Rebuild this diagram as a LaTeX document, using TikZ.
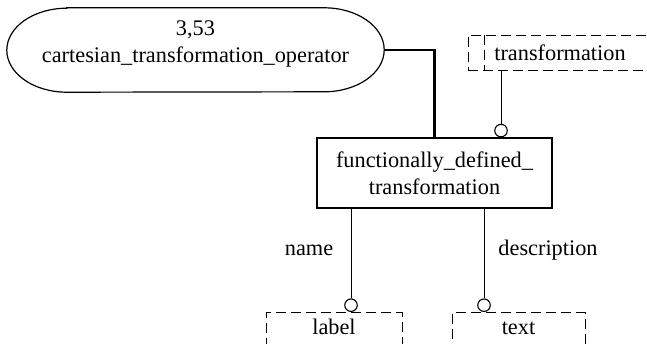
\documentclass[tikz,border=0pt]{standalone}
\usepackage{fontspec}
\setmainfont{Liberation Serif}
\begin{document}
\begin{tikzpicture}[x=1pt,y=-1pt,
  every node/.style={font=\fontsize{22.3}{27}\selectfont, inner sep=0pt},
  solidbox/.style={draw, line width=1.2pt, inner sep=0pt},
  dbox/.style={draw, line width=1pt, dash pattern=on 10pt off 5pt},
  dline/.style={line width=1pt, dash pattern=on 10pt off 5pt},
  conn/.style={line width=1pt},
  thickconn/.style={line width=2.4pt},
  ringnode/.style={circle, draw, line width=1.1pt, minimum size=12.5pt, inner sep=0pt, anchor=south, fill=white},
  outline/.style={line width=1.2pt}]
\useasboundingbox (0,0) rectangle (647,343);
\clip (0,0) rectangle (647,343);

% rounded-end shape
\node[minimum width=377pt, minimum height=84pt] (cto) at (195.5,50) {};
\draw[outline] ([xshift=60pt]cto.north west) -- ([xshift=-60pt]cto.north east)
  arc[start angle=90, end angle=-90, x radius=60pt, y radius=42pt]
  -- ([xshift=60pt]cto.south west)
  arc[start angle=270, end angle=90, x radius=60pt, y radius=42pt] -- cycle;
\node[align=center] (ctotext) at (195.5,44) {3,53\\cartesian\_transformation\_operator};

% transformation (dashed, open to the right)
\node[dbox, minimum width=184pt, minimum height=35pt] (trans) at (560,52.5) {transformation};
\coordinate (xi) at (484,0);
\draw[dline] (trans.north -| xi) -- (trans.south -| xi);

% main entity
\node[solidbox, minimum width=235pt, minimum height=70pt, align=center] (fdt) at (434.5,173)
  {functionally\_defined\_\\transformation};

% lower dashed boxes
\node[dbox, minimum width=136pt, anchor=north, text height=18pt, text depth=22pt, inner ysep=4pt] (lbl) at (334,312) {label};
\node[dbox, minimum width=133pt, anchor=north, text height=18pt, text depth=22pt, inner ysep=4pt] (txt) at (518.5,312) {text};

% ring ends
\coordinate (xa) at (501,0);
\coordinate (xn) at (351,0);
\coordinate (xd) at (484,0);
\node[ringnode] (ra) at (fdt.north -| xa) {};
\node[ringnode] (rn) at (lbl.north -| xn) {};
\node[ringnode] (rd) at (txt.north -| xd) {};

% connectors
\draw[thickconn] (cto.east) -| (fdt.north);
\draw[conn] (trans.south -| xa) -- (ra.north);
\draw[conn] (fdt.south -| xn) -- (rn.north);
\draw[conn] (fdt.south -| xd) -- (rd.north);

% role labels
\node (nm) at (309,250) {name};
\node (ds) at (548,250) {description};
\end{tikzpicture}
\end{document}
